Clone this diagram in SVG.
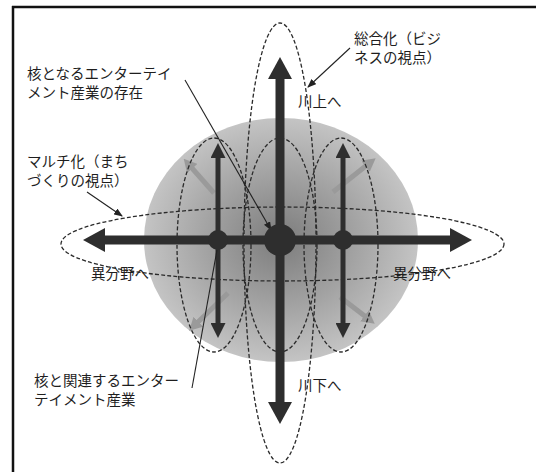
<svg xmlns="http://www.w3.org/2000/svg" width="536" height="472" viewBox="0 0 536 472">
<defs>
<radialGradient id="sph" cx="0.5" cy="0.5" r="0.5">
<stop offset="0" stop-color="#7c7c7c"/>
<stop offset="0.55" stop-color="#a3a3a3"/>
<stop offset="1" stop-color="#c4c4c4"/>
</radialGradient>
<marker id="bigHead" viewBox="0 0 22 24" markerWidth="22" markerHeight="24" refX="2" refY="12" orient="auto-start-reverse" markerUnits="userSpaceOnUse">
<path d="M0,0 L22,12 L0,24 z" fill="#2e2e2e"/>
</marker>
<marker id="smallHead" viewBox="0 0 15 15" markerWidth="15" markerHeight="15" refX="2" refY="7.5" orient="auto-start-reverse" markerUnits="userSpaceOnUse">
<path d="M0,0 L15,7.5 L0,15 z" fill="#2e2e2e"/>
</marker>
<marker id="fadeHead" viewBox="0 0 13 14" markerWidth="13" markerHeight="14" refX="2" refY="7" orient="auto" markerUnits="userSpaceOnUse">
<path d="M0,0 L13,7 L0,14 z" fill="#9a9a9a"/>
</marker>
<marker id="leadHead" viewBox="0 0 9 7" markerWidth="9" markerHeight="7" refX="8" refY="3.5" orient="auto" markerUnits="userSpaceOnUse">
<path d="M0,0 L9,3.5 L0,7 z" fill="#222"/>
</marker>
</defs>
<style>
.lbl{font-family:"Noto Sans CJK JP","Noto Sans",sans-serif;font-size:14.5px;fill:#1e1e1e}
.dash{fill:none;stroke:#2a2a2a;stroke-width:1.3;stroke-dasharray:4 2.2}
.big{stroke:#2e2e2e;stroke-width:9;fill:none}
.small{stroke:#2e2e2e;stroke-width:5;fill:none}
.fade{stroke:#9a9a9a;stroke-width:5;fill:none}
.lead{stroke:#222;stroke-width:1.1;fill:none}
.node{fill:#2e2e2e}
</style>
<rect width="536" height="472" fill="#fff"/>
<g id="frame" stroke="#111" stroke-width="2.5">
<line x1="12" y1="7" x2="536" y2="7"/>
<line x1="13" y1="6" x2="13" y2="472"/>
</g>
<g id="sphere">
<ellipse cx="281" cy="240" rx="137" ry="122" fill="url(#sph)"/>
</g>
<g id="fade-arrows">
<line class="fade" x1="214" y1="193" x2="191" y2="167" marker-end="url(#fadeHead)"/>
<line class="fade" x1="333" y1="192" x2="367" y2="165" marker-end="url(#fadeHead)"/>
<line class="fade" x1="228" y1="293" x2="197" y2="323" marker-end="url(#fadeHead)"/>
<line class="fade" x1="340" y1="297" x2="366" y2="317" marker-end="url(#fadeHead)"/>
</g>
<g id="dashed-ellipses">
<ellipse id="multi" class="dash" cx="282.5" cy="244" rx="221.5" ry="37"/>
<ellipse id="sogo" class="dash" cx="280" cy="243" rx="36" ry="220"/>
<ellipse class="dash" cx="214" cy="245" rx="37" ry="107"/>
<ellipse class="dash" cx="280" cy="245" rx="37" ry="107"/>
<ellipse class="dash" cx="341" cy="245" rx="37" ry="107"/>
</g>
<g id="connectors">
<line class="big" x1="103" y1="240" x2="452" y2="240" marker-start="url(#bigHead)" marker-end="url(#bigHead)"/>
<line class="big" x1="280" y1="77" x2="280" y2="404" marker-start="url(#bigHead)" marker-end="url(#bigHead)"/>
<line class="small" x1="218" y1="156" x2="218" y2="325" marker-start="url(#smallHead)" marker-end="url(#smallHead)"/>
<line class="small" x1="343" y1="156" x2="343" y2="325" marker-start="url(#smallHead)" marker-end="url(#smallHead)"/>
<line class="lead" x1="185" y1="80" x2="271" y2="230" marker-end="url(#leadHead)"/>
<line class="lead" x1="87" y1="192" x2="122" y2="216" marker-end="url(#leadHead)"/>
<line class="lead" x1="350" y1="48" x2="308" y2="87" marker-end="url(#leadHead)"/>
<line class="lead" x1="192" y1="388" x2="217" y2="250"/>
</g>
<g id="core">
<circle class="node" cx="280" cy="240" r="16"/>
</g>
<g id="node-left">
<circle class="node" cx="218" cy="240" r="10"/>
</g>
<g id="node-right">
<circle class="node" cx="343" cy="240" r="10"/>
</g>
<g id="label-core">
<text class="lbl" x="27" y="79">核となるエンターテイ</text>
<text class="lbl" x="27" y="98">メント産業の存在</text>
</g>
<g id="label-multi">
<text class="lbl" x="27" y="167">マルチ化（まち</text>
<text class="lbl" x="27" y="186">づくりの視点）</text>
</g>
<g id="label-sogo">
<text class="lbl" x="354" y="44">総合化（ビジ</text>
<text class="lbl" x="354" y="63">ネスの視点）</text>
</g>
<g id="label-up"><text class="lbl" x="298" y="107">川上へ</text></g>
<g id="label-down"><text class="lbl" x="298" y="391">川下へ</text></g>
<g id="label-left"><text class="lbl" x="91" y="279">異分野へ</text></g>
<g id="label-right"><text class="lbl" x="393" y="279">異分野へ</text></g>
<g id="label-related">
<text class="lbl" x="34" y="386">核と関連するエンター</text>
<text class="lbl" x="34" y="405">テイメント産業</text>
</g>
</svg>
